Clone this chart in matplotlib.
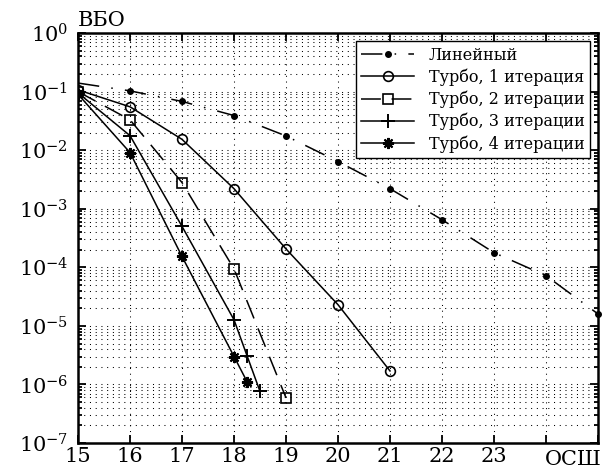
import matplotlib
matplotlib.use("Agg")
import matplotlib.pyplot as plt
from matplotlib.ticker import LogLocator, FixedLocator, NullFormatter

plt.rcParams["font.family"] = ["DejaVu Serif"]
plt.rcParams["mathtext.fontset"] = "dejavuserif"

# SNR, dB
snr_linear = [15, 16, 17, 18, 19, 20, 21, 22, 23, 24, 25]
ber_linear = [0.14, 0.103, 0.068, 0.039, 0.0175, 0.0064, 0.0022, 6.5e-4, 1.78e-4, 7.2e-5, 1.6e-5]

snr_turbo1 = [15, 16, 17, 18, 19, 20, 21]
ber_turbo1 = [0.107, 0.055, 0.0153, 0.0022, 2.06e-4, 2.3e-5, 1.7e-6]

snr_turbo2 = [15, 16, 17, 18, 19]
ber_turbo2 = [0.1, 0.033, 0.0028, 9.4e-5, 5.9e-7]

snr_turbo3 = [15, 16, 17, 18, 18.25, 18.5]
ber_turbo3 = [0.095, 0.0177, 5.0e-4, 1.27e-5, 3.1e-6, 7.6e-7]

snr_turbo4 = [15, 16, 17, 18, 18.25]
ber_turbo4 = [0.09, 0.0091, 1.53e-4, 3.0e-6, 1.12e-6]

labels = ["Линейный", "Турбо, 1 итерация", "Турбо, 2 итерации",
          "Турбо, 3 итерации", "Турбо, 4 итерации"]
x_ticks = [15, 16, 17, 18, 19, 20, 21, 22, 23, 24, 25]
x_ticklabels = ["15", "16", "17", "18", "19", "20", "21", "22", "23", "", ""]

fig = plt.figure(figsize=(6.11, 4.72), dpi=100)
ax = fig.add_axes([0.1277, 0.0614, 0.851, 0.8686])

lw = 1.1
ax.plot(snr_linear, ber_linear, color="black", lw=lw, marker="o", ms=4,
        mfc="black", dashes=(14, 8, 1.0, 8), markevery=list(range(1, len(snr_linear))),
        label=labels[0], clip_on=False, zorder=3)
ax.plot(snr_turbo1, ber_turbo1, color="black", lw=lw, marker="o", ms=7,
        mfc="none", mew=1.2, label=labels[1], zorder=3)
ax.plot(snr_turbo2, ber_turbo2, color="black", lw=lw, marker="s", ms=7,
        mfc="none", mew=1.2, dashes=(13, 7), label=labels[2], zorder=3)
ax.plot(snr_turbo3, ber_turbo3, color="black", lw=lw, marker="+", ms=10,
        mew=1.4, label=labels[3], zorder=3)
ax.plot(snr_turbo4, ber_turbo4, color="black", lw=lw, marker=(8, 2, 0), ms=8,
        mew=1.5, label=labels[4], zorder=3)

ax.set_yscale("log")
ax.set_xlim(15, 25)
ax.set_ylim(1e-7, 1)
ax.xaxis.set_major_locator(FixedLocator(x_ticks))
ax.set_xticklabels(x_ticklabels)
ax.yaxis.set_major_locator(LogLocator(base=10, numticks=20))
ax.yaxis.set_minor_locator(LogLocator(base=10, subs=range(2, 10), numticks=20))
ax.yaxis.set_minor_formatter(NullFormatter())

grid_style = dict(color="black", linestyle=(0, (1.0, 4.5)), linewidth=0.75)
ax.grid(True, which="major", axis="both", **grid_style)
ax.grid(True, which="minor", axis="y", **grid_style)

ax.tick_params(which="both", direction="in", top=True, right=True,
               labelsize=15, width=1.3)
ax.tick_params(which="major", length=6)
ax.tick_params(axis="x", which="major", pad=3)
ax.tick_params(axis="y", which="major", pad=7)
ax.tick_params(which="minor", length=3)
for s in ax.spines.values():
    s.set_linewidth(1.8)

ax.text(0.0, 1.008, "ВБО", transform=ax.transAxes, fontsize=15,
        ha="left", va="bottom")
ax.text(0.952, -0.054, "ОСШ", transform=ax.transAxes, fontsize=15,
        ha="center", va="baseline")

leg = ax.legend(loc="upper right", fontsize=11.5, frameon=True, fancybox=False,
                edgecolor="black", framealpha=1, borderpad=0.35,
                handlelength=3.3, handletextpad=0.9, labelspacing=0.3,
                borderaxespad=0.5)
leg.get_frame().set_linewidth(1.0)

fig.savefig("out.png", dpi=100)
